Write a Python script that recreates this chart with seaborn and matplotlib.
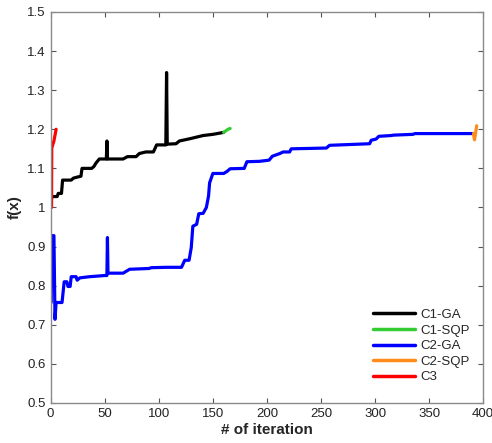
import matplotlib
matplotlib.use("Agg")
import matplotlib.pyplot as plt
import seaborn as sns
import pandas as pd

# ---- data ----
c1ga_iter = [0, 1, 6, 7, 10, 11, 19, 21, 25, 28, 29, 38, 40, 42, 45, 51.5, 52, 52.5, 67, 71, 79, 82, 88, 95,
             98, 106.5, 107.2, 107.8, 116, 119, 129, 135, 141, 150, 160]
c1ga_val = [1.0, 1.028, 1.028, 1.036, 1.036, 1.07, 1.07, 1.075, 1.078, 1.08, 1.1, 1.1, 1.105, 1.114, 1.124,
            1.124, 1.17, 1.124, 1.124, 1.13, 1.13, 1.138, 1.142, 1.142, 1.16, 1.16, 1.345, 1.162, 1.163,
            1.17, 1.176, 1.18, 1.184, 1.187, 1.192]

c1sqp_iter = [160, 162, 164, 166]
c1sqp_val = [1.192, 1.196, 1.2, 1.202]

c2ga_iter = [0.5, 1, 3, 4, 5, 10.5, 12.5, 15, 16, 18, 19, 23.5, 24.5, 27, 36, 50, 52, 52.5, 53, 67, 73, 91, 93,
             107, 121, 124, 128, 130, 131.5, 135, 137, 141, 144, 146, 147, 150, 160, 163, 166, 179, 181.5,
             193, 202, 205, 212, 215, 221, 222.5, 255, 258, 295, 296.5, 301, 303.5, 315, 317, 335, 337, 391]
c2ga_val = [0.757, 0.928, 0.928, 0.714, 0.757, 0.757, 0.81, 0.81, 0.798, 0.798, 0.823, 0.823, 0.814, 0.82,
            0.823, 0.826, 0.826, 0.923, 0.832, 0.832, 0.842, 0.844, 0.846, 0.847, 0.847, 0.865, 0.865,
            0.897, 0.952, 0.957, 0.984, 0.985, 1.0, 1.029, 1.063, 1.087, 1.087, 1.092, 1.099, 1.1, 1.117,
            1.118, 1.121, 1.131, 1.138, 1.142, 1.142, 1.15, 1.152, 1.159, 1.163, 1.172, 1.175, 1.182,
            1.184, 1.185, 1.187, 1.189, 1.189]

c2sqp_iter = [391, 392, 393, 394]
c2sqp_val = [1.189, 1.173, 1.19, 1.209]

c3_iter = [0.8, 1, 3, 5]
c3_val = [1.0, 1.152, 1.17, 1.2]

labels = ["C1-GA", "C1-SQP", "C2-GA", "C2-SQP", "C3"]
colors = ["#000000", "#33cc33", "#0000ff", "#ff8c1a", "#ff0000"]

x_ticks = [0, 50, 100, 150, 200, 250, 300, 350, 400]
y_ticks = [0.5, 0.6, 0.7, 0.8, 0.9, 1.0, 1.1, 1.2, 1.3, 1.4, 1.5]
y_tick_labels = ["0.5", "0.6", "0.7", "0.8", "0.9", "1", "1.1", "1.2", "1.3", "1.4", "1.5"]

series = [(c1ga_iter, c1ga_val), (c1sqp_iter, c1sqp_val), (c2ga_iter, c2ga_val),
          (c2sqp_iter, c2sqp_val), (c3_iter, c3_val)]

# ---- style ----
sns.set_style("white")
plt.rcParams["font.family"] = ["Liberation Sans", "DejaVu Sans"]

fig = plt.figure(figsize=(4.92, 4.43), dpi=100)
ax = fig.add_axes([0.103, 0.0903, 0.879, 0.8827])

for (xs, ys), lab, col in zip(series, labels, colors):
    df = pd.DataFrame({"iter": xs, "f": ys})
    sns.lineplot(data=df, x="iter", y="f", ax=ax, color=col, label=lab, linewidth=2.3,
                 sort=False, estimator=None)

ax.set_xlim(0, 400)
ax.set_ylim(0.5, 1.5)
ax.set_xticks(x_ticks)
ax.set_yticks(y_ticks)
ax.set_yticklabels(y_tick_labels)
ax.tick_params(direction="in", length=3.5, width=0.8, color="#555555", labelsize=9.5,
               labelcolor="#222222", top=True, right=True, bottom=True, left=True)
for sp in ax.spines.values():
    sp.set_visible(True)
    sp.set_color("#8a8a8a")
    sp.set_linewidth(1.0)

ax.set_xlabel("# of iteration", fontsize=11, fontweight="bold", labelpad=2)
ax.set_ylabel("f(x)", fontsize=11, fontweight="bold", labelpad=4)

leg = ax.legend(loc="lower right", bbox_to_anchor=(0.99, 0.027), frameon=False, fontsize=9.5,
                handlelength=3.2, handletextpad=0.35, labelspacing=0.25, borderpad=0.2)
for line in leg.get_lines():
    line.set_linewidth(2.5)

fig.savefig("out.png", dpi=100)
